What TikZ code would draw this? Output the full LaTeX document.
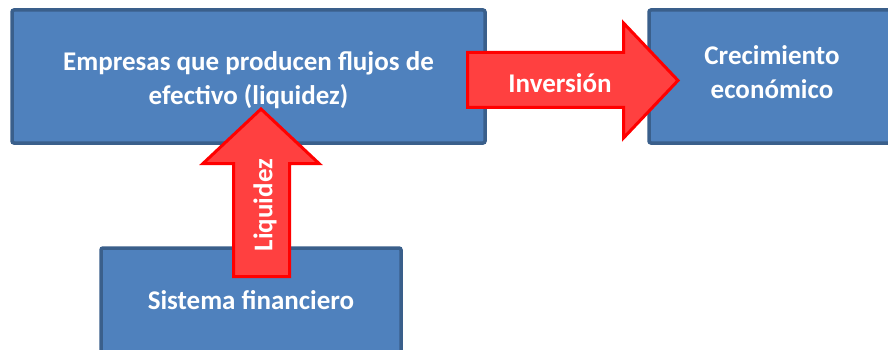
\documentclass[tikz,border=0pt]{standalone}
\usepackage{fontspec}
\setmainfont{Carlito}
\definecolor{boxfill}{HTML}{4F81BD}
\definecolor{boxline}{HTML}{3A5F8B}
\definecolor{arrfill}{HTML}{FF4040}
\definecolor{arrline}{HTML}{FF0000}
\newcommand{\shiftline}[2]{\raisebox{#1}[\height][\depth]{#2}}
\tikzset{
  bluebox/.style={draw=boxline, line width=3.5pt, fill=boxfill, rounded corners=2pt, inner sep=0pt,
    text=white, align=center, font=\bfseries\fontsize{27}{34}\selectfont},
  blockarrow/.style={draw=arrline, line width=3pt, fill=arrfill, line join=miter},
  arrowtext/.style={text=white, inner sep=0pt, font=\bfseries\fontsize{27}{30}\selectfont}
}
\begin{document}
\begin{tikzpicture}[x=1pt,y=-1pt]
\useasboundingbox (0,0) rectangle (888,350);
\clip (0,0) rectangle (888,350);
\fill[white] (0,0) rectangle (888,350);
% boxes
\node[bluebox, minimum width=473pt, minimum height=133pt] (emp) at (248.5,76.5)
  {\shiftline{-4pt}{Empresas que producen flujos de}\\\shiftline{-4pt}{efectivo (liquidez)}};
\node[bluebox, minimum width=246pt, minimum height=133pt] (crec) at (772,76.5)
  {\shiftline{4pt}{Crecimiento}\\\shiftline{4pt}{econ\'omico}};
\node[bluebox, minimum width=300pt, minimum height=105pt] (sis) at (251,300.5)
  {Sistema financiero};
% block arrows
\draw[blockarrow] (467.5,52.5) -- (623.5,52.5) -- (623.5,23) -- (678,80.5)
  -- (623.5,138) -- (623.5,107.5) -- (467.5,107.5) -- cycle;
\draw[blockarrow] (233.5,276.5) -- (233.5,163.5) -- (203,163.5) -- (261,109)
  -- (319,163.5) -- (289.5,163.5) -- (289.5,276.5) -- cycle;
% arrow labels
\node[arrowtext] (inv) at (560,83) {Inversi\'on};
\node[arrowtext, rotate=90] (liq) at (265,205) {Liquidez};
\end{tikzpicture}
\end{document}
